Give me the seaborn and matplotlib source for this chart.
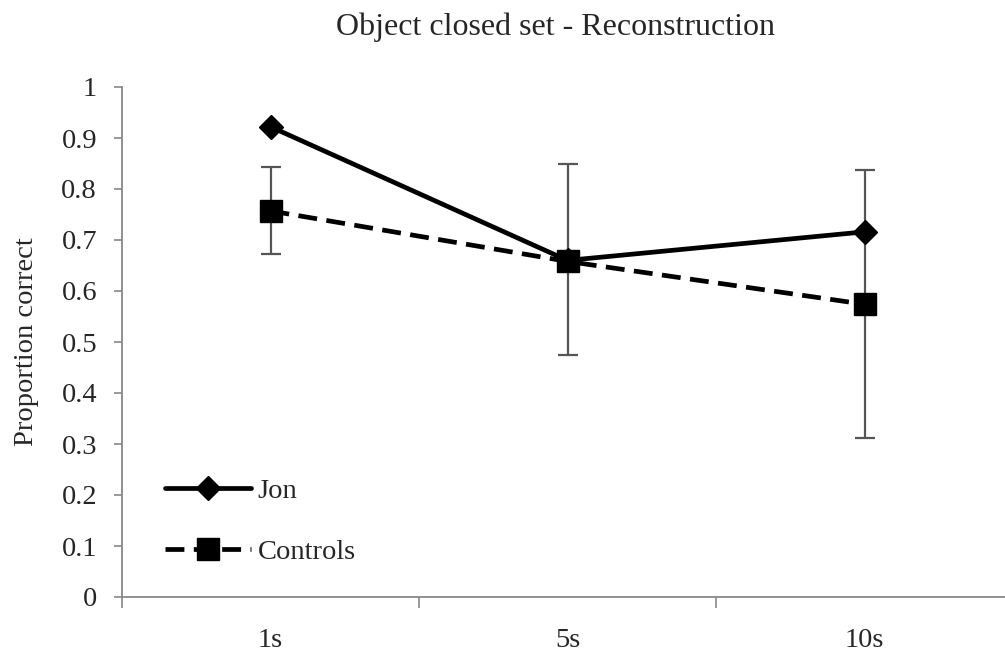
import numpy as np
import pandas as pd
import matplotlib
matplotlib.use("Agg")
import matplotlib.pyplot as plt
import seaborn as sns
from matplotlib.ticker import FixedLocator
from matplotlib.lines import Line2D

categories = ["1s", "5s", "10s"]
jon = [0.922, 0.660, 0.716]
controls = [0.757, 0.658, 0.574]
ctrl_err_low = [0.673, 0.475, 0.311]
ctrl_err_high = [0.843, 0.849, 0.838]
series_names = ["Jon", "Controls"]
title = "Object closed set - Reconstruction"
ylabel = "Proportion correct"

sns.set_theme(style="white")
plt.rcParams['font.family'] = ['Liberation Serif', 'DejaVu Serif']

df = pd.DataFrame({
    "x": list(range(len(categories))) * 2,
    "value": jon + controls,
    "series": [series_names[0]] * 3 + [series_names[1]] * 3,
})

FS = 20.5
LW = 3.4
DASH = (4.0, 2.0)

fig = plt.figure(figsize=(10.05, 6.59), dpi=100)
ax = fig.add_axes([122/1005, 1-597/659, 1-122/1005, (597-87)/659])

xpos = np.arange(len(categories))
ax.errorbar(xpos, controls,
            yerr=[np.array(controls) - np.array(ctrl_err_low), np.array(ctrl_err_high) - np.array(controls)],
            fmt="none", ecolor="#555555", elinewidth=1.6, capsize=7, capthick=1.6, zorder=1)

sns.lineplot(data=df, x="x", y="value", hue="series", style="series",
             palette={"Jon": "black", "Controls": "black"},
             dashes={"Jon": "", "Controls": DASH},
             markers=False, linewidth=LW, ax=ax, zorder=2, legend=False)
ax.plot(xpos, jon, linestyle="none", marker="D", markersize=12, color="black", zorder=3)
ax.plot(xpos, controls, linestyle="none", marker="s", markersize=16, color="black", zorder=3)

h1 = Line2D([], [], color="black", linewidth=LW, marker="D", markersize=12)
h2 = Line2D([], [], color="black", linewidth=LW, linestyle=(0, DASH), marker="s", markersize=16)
leg = ax.legend([h1, h2], series_names, loc="lower left", bbox_to_anchor=(0.036, 0.04),
                frameon=False, fontsize=FS, handlelength=3.0, labelspacing=1.25,
                handletextpad=0.25, borderaxespad=0)

ax.set_ylim(0, 1)
ax.set_xlim(-0.5, 2.473)
ax.set_yticks(np.arange(0, 1.01, 0.1))
ax.set_yticklabels(["0"] + [f"{v:.1f}" for v in np.arange(0.1, 0.95, 0.1)] + ["1"])
ax.set_xticks(xpos)
ax.set_xticklabels(categories)
ax.xaxis.set_minor_locator(FixedLocator([-0.5, 0.5, 1.5, 2.5]))
ax.tick_params(axis="x", which="major", length=0, pad=22, labelsize=FS)
ax.tick_params(axis="x", which="minor", length=8, width=1.2, color="#888888", direction="out")
ax.tick_params(axis="y", which="major", length=6, width=1.2, color="#888888", direction="out",
               labelsize=FS, pad=12)
ax.tick_params(bottom=True, left=True, which="both")
for s in ["top", "right"]:
    ax.spines[s].set_visible(False)
for s in ["left", "bottom"]:
    ax.spines[s].set_color("#888888")
    ax.spines[s].set_linewidth(1.3)
ax.set_xlabel("")
ax.set_ylabel(ylabel, fontsize=FS, labelpad=16)
ax.grid(False)
fig.text(0.553, 0.958, title, ha="center", va="center", fontsize=23)

fig.savefig("out.png", dpi=100)
